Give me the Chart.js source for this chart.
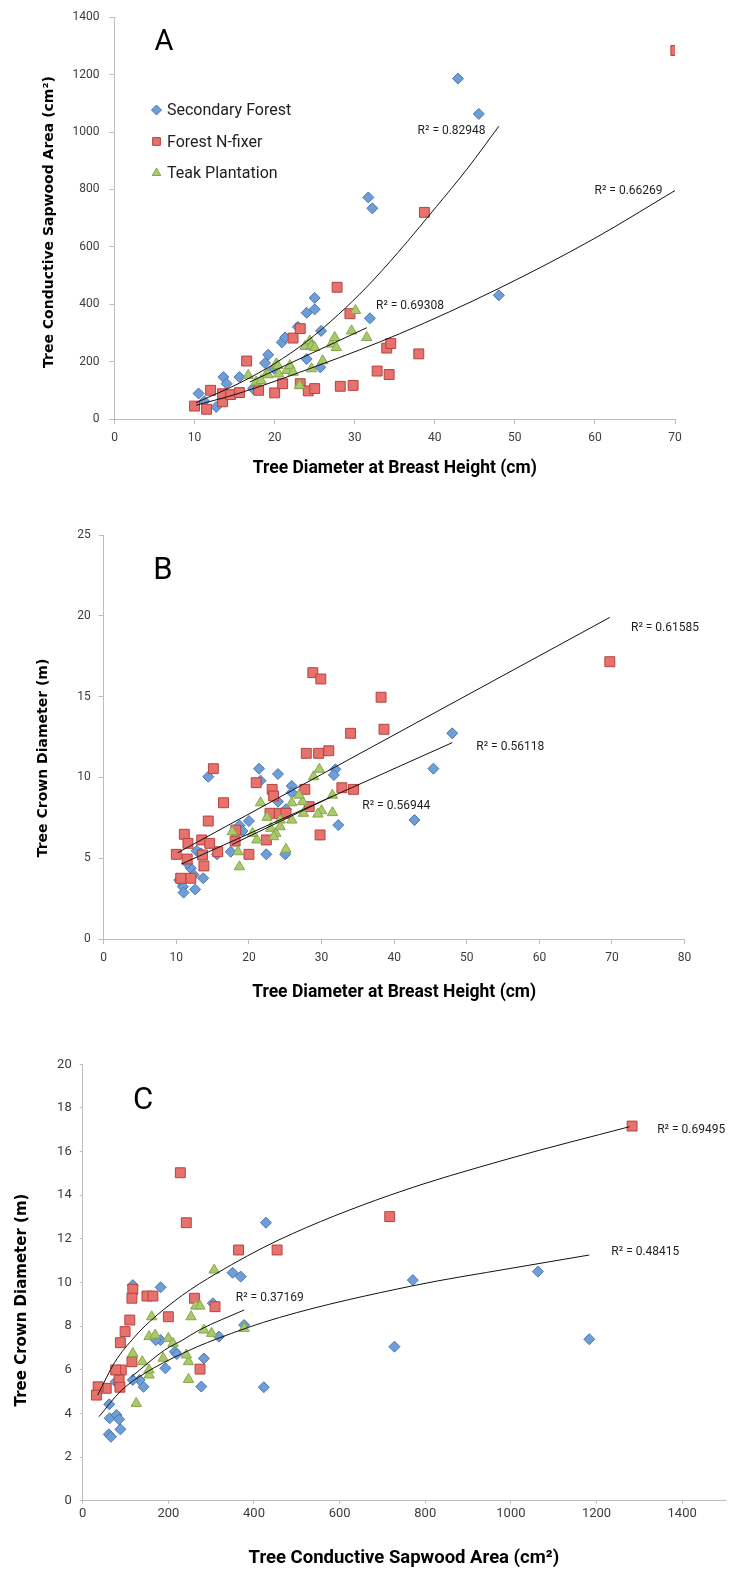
<!DOCTYPE html>
<html>
<head>
<meta charset="utf-8">
<title>Sapwood area and crown diameter</title>
<script src="https://cdn.jsdelivr.net/npm/chart.js@4.4.1/dist/chart.umd.min.js"></script>
<style>
  body { margin: 0; background: #fff; }
  #wrap { position: relative; width: 733px; height: 1570px; }
  canvas { position: absolute; left: 0; }
</style>
</head>
<body>
<div id="wrap">
  <canvas id="chartA" width="733" height="505" style="top:0"></canvas>
  <canvas id="chartB" width="733" height="530" style="top:505px"></canvas>
  <canvas id="chartC" width="733" height="535" style="top:1035px"></canvas>
</div>
<script>
"use strict";

const series_names = ["Secondary Forest", "Forest N-fixer", "Teak Plantation"];

/* Panel A: diameter at breast height (cm) vs conductive sapwood area (cm2) */
const a_secondary_dbh = [10.5, 11.2, 12.7, 13.6, 14.0, 15.6, 17.3, 18.8, 19.2, 19.9, 20.9, 21.3, 22.9, 24.0, 24.0, 25.0, 25.0, 25.8, 25.7, 31.9, 31.7, 32.2, 42.9, 45.5, 48.0];
const a_secondary_sap = [89, 62, 42, 146, 123, 146, 106, 195, 224, 176, 267, 284, 321, 209, 370, 422, 382, 307, 180, 351, 772, 734, 1186, 1063, 431];
const a_nfixer_dbh = [10.0, 11.5, 12.0, 13.5, 13.5, 14.5, 15.6, 16.5, 18.0, 20.0, 21.0, 22.3, 23.2, 23.2, 24.2, 25.0, 27.8, 28.2, 29.4, 29.8, 32.8, 34.0, 34.5, 34.3, 38.0, 38.7, 70.1];
const a_nfixer_sap = [45, 34, 100, 60, 88, 85, 92, 202, 100, 91, 123, 282, 315, 123, 98, 106, 459, 114, 367, 117, 167, 247, 263, 155, 227, 720, 1284];
const a_teak_dbh = [16.7, 17.7, 18.3, 19.0, 19.2, 20.2, 20.4, 20.5, 21.5, 21.9, 22.3, 23.1, 23.8, 24.4, 24.6, 24.6, 25.0, 26.0, 27.1, 27.5, 27.7, 29.6, 30.1, 31.5];
const a_teak_sap = [152, 129, 134, 157, 154, 192, 186, 157, 169, 186, 163, 117, 253, 272, 255, 175, 249, 203, 261, 284, 249, 307, 378, 284];

// fitted curves, read along their length
const a_fit_secondary_x = [10.2, 15.6, 20, 24, 28, 31.5, 35.4, 40.2, 44, 48];
const a_fit_secondary_y = [57, 125, 193, 270, 365, 460, 580, 740, 870, 1020];
const a_fit_nfixer_x = [10.2, 15.6, 25.6, 35.6, 48, 60, 70];
const a_fit_nfixer_y = [48, 90, 188, 297, 455, 630, 796];
const a_fit_teak_x = [16.9, 31.5];
const a_fit_teak_y = [129, 318];
const a_r2_text = ["R\u00b2 = 0.82948", "R\u00b2 = 0.66269", "R\u00b2 = 0.69308"];

/* Panel B: diameter at breast height (cm) vs crown diameter (m) */
const b_secondary_dbh = [48.0, 21.4, 24.0, 45.4, 14.4, 31.9, 42.8, 32.3, 25.9, 25.9, 31.7, 21.6, 24.0, 25.1, 20.0, 18.7, 19.1, 22.4, 25.0, 17.5, 15.6, 12.8, 13.4, 12.0, 12.4, 10.9, 11.0, 12.6, 13.7, 10.4, 11.5];
const b_secondary_crown = [12.73, 10.54, 10.21, 10.54, 10.04, 10.5, 7.36, 7.05, 9.47, 9.06, 10.15, 9.8, 8.5, 8.03, 7.3, 7.03, 6.68, 5.24, 5.24, 5.4, 5.24, 5.46, 5.3, 4.38, 3.96, 3.24, 2.87, 3.07, 3.76, 3.65, 4.68];
const b_nfixer_dbh = [69.7, 28.8, 29.9, 38.2, 38.6, 34.0, 27.9, 29.6, 31.0, 15.1, 21.0, 23.2, 23.4, 27.7, 28.3, 32.8, 34.4, 29.8, 16.5, 14.4, 22.9, 24.2, 25.1, 18.2, 18.1, 20.0, 22.4, 15.7, 10.0, 11.1, 11.6, 13.5, 14.6, 11.5, 13.8, 13.6, 10.6, 12.0];
const b_nfixer_crown = [17.16, 16.48, 16.09, 14.96, 12.98, 12.73, 11.49, 11.49, 11.65, 10.54, 9.67, 9.26, 8.85, 9.26, 8.19, 9.36, 9.26, 6.44, 8.43, 7.3, 7.78, 7.78, 7.78, 6.74, 6.06, 5.24, 6.13, 5.4, 5.24, 6.48, 5.92, 6.13, 5.92, 4.95, 4.52, 5.2, 3.76, 3.76];
const b_teak_dbh = [29.7, 28.9, 31.5, 31.5, 30.0, 29.5, 27.5, 27.4, 26.9, 25.9, 25.9, 21.6, 22.5, 24.3, 17.7, 18.5, 18.7, 25.1, 21.1, 20.5, 23.0, 23.7, 23.4, 24.3];
const b_teak_crown = [10.5, 10.04, 8.9, 7.82, 7.94, 7.73, 7.78, 8.5, 8.9, 8.43, 7.36, 8.43, 7.53, 7.36, 6.64, 5.4, 4.47, 5.55, 6.13, 6.54, 6.85, 6.54, 6.33, 6.95];

const b_fit_secondary_x = [10.7, 48.0];
const b_fit_secondary_y = [4.64, 12.15];
const b_fit_nfixer_x = [10.2, 69.7];
const b_fit_nfixer_y = [5.34, 19.9];
const b_fit_teak_x = [17.7, 31.5];
const b_fit_teak_y = [5.85, 8.83];
const b_r2_text = ["R\u00b2 = 0.61585", "R\u00b2 = 0.56118", "R\u00b2 = 0.56944"];

/* Panel C: conductive sapwood area (cm2) vs crown diameter (m) */
const c_secondary_sap = [428, 350, 369, 771, 1063, 117, 182, 304, 1183, 728, 423, 377, 283, 277, 318, 215, 182, 171, 193, 142, 133, 117, 77, 62, 63, 79, 85, 61, 66, 88, 220];
const c_secondary_crown = [12.74, 10.45, 10.27, 10.11, 10.5, 9.88, 9.78, 9.05, 7.4, 7.06, 5.2, 8.05, 6.52, 5.23, 7.52, 6.83, 7.36, 7.36, 6.07, 5.22, 5.53, 5.53, 5.45, 4.42, 3.78, 3.93, 3.73, 3.04, 2.93, 3.27, 6.72];
const c_nfixer_sap = [1283, 228, 242, 717, 364, 454, 117, 115, 150, 164, 261, 309, 274, 200, 115, 110, 99, 88, 90, 77, 85, 87, 55, 36, 32];
const c_nfixer_crown = [17.17, 15.03, 12.74, 13.02, 11.49, 11.49, 9.69, 9.28, 9.38, 9.38, 9.28, 8.89, 6.03, 8.43, 6.37, 8.28, 7.75, 7.24, 5.99, 5.99, 5.53, 5.2, 5.15, 5.22, 4.84];
const c_teak_sap = [307, 377, 301, 283, 247, 247, 242, 253, 264, 274, 200, 211, 188, 155, 169, 161, 155, 155, 139, 125, 117];
const c_teak_crown = [10.57, 7.9, 7.67, 7.82, 5.56, 6.37, 6.68, 8.43, 8.92, 8.92, 7.44, 7.21, 6.53, 7.52, 7.59, 8.43, 5.76, 5.99, 6.37, 4.46, 6.75];

const c_fit_secondary_x = [38, 90, 145, 233, 311, 460, 771, 1000, 1183];
const c_fit_secondary_y = [3.85, 5.05, 5.84, 6.75, 7.4, 8.4, 9.85, 10.65, 11.26];
const c_fit_nfixer_x = [35, 75, 121, 156, 233, 311, 458, 717, 1000, 1277];
const c_fit_nfixer_y = [4.84, 6.35, 7.5, 8.2, 9.42, 10.4, 11.95, 14.0, 15.7, 17.14];
const c_fit_teak_x = [114, 191, 233, 272, 377];
const c_fit_teak_y = [5.68, 6.9, 7.36, 7.82, 8.74];
const c_r2_text = ["R\u00b2 = 0.69495", "R\u00b2 = 0.48415", "R\u00b2 = 0.37169"];

/*
    styling
*/
const AXIS_COLOR = "#bcbcbc";
const TICK_COLOR = "#3c3c3c";
const BLUE = { fill: "#6f9dd5", edge: "#4977b4" };
const RED = { fill: "#e6716d", edge: "#b8433f" };
const GREEN = { fill: "#a9c96b", edge: "#86a74a" };

Chart.defaults.font.family = "Roboto, 'Liberation Sans', sans-serif";
Chart.defaults.color = TICK_COLOR;

function pts(xs, ys) {
    return xs.map((x, i) => ({ x: x, y: ys[i] }));
}

function marker_sets(blue, red, green) {
    return [{
        label: series_names[0],
        data: blue,
        pointStyle: "rectRot",
        pointRadius: 5.5,
        backgroundColor: BLUE.fill,
        borderColor: BLUE.edge,
        borderWidth: 1,
        order: 3
    },
    {
        label: series_names[1],
        data: red,
        pointStyle: "rect",
        pointRadius: 7,
        backgroundColor: RED.fill,
        borderColor: RED.edge,
        borderWidth: 1,
        order: 2
    },
    {
        label: series_names[2],
        data: green,
        pointStyle: "triangle",
        pointRadius: 6,
        backgroundColor: GREEN.fill,
        borderColor: GREEN.edge,
        borderWidth: 1,
        order: 1
    }];
}

function fit_set(data) {
    return {
        label: "fit",
        data: data,
        showLine: true,
        fill: false,
        pointRadius: 0,
        borderColor: "#111",
        borderWidth: 1,
        cubicInterpolationMode: "monotone",
        order: 0
    };
}

// letters, rotated y titles, R2 labels and the legend
const panel_text_plugin = {
    id: "panelText",
    afterDatasetsDraw: function (chart, args, opts) {
        const ctx = chart.ctx;
        const xs = chart.scales.x;
        const ys = chart.scales.y;
        ctx.save();
        ctx.fillStyle = "#000";
        ctx.textAlign = "center";
        ctx.textBaseline = "middle";

        ctx.font = opts.letterFont;
        ctx.fillText(opts.letter, opts.letterAt[0], opts.letterAt[1]);

        ctx.save();
        ctx.translate(opts.yTitleAt[0], opts.yTitleAt[1]);
        ctx.rotate(-Math.PI / 2);
        ctx.font = opts.yTitleFont;
        ctx.fillText(opts.yTitle, 0, 0);
        ctx.restore();

        ctx.font = "12px Roboto";
        ctx.fillStyle = "#1e1e1e";
        opts.r2.forEach(r => {
            ctx.fillText(r.text, xs.getPixelForValue(r.x), ys.getPixelForValue(r.y));
        });

        if (opts.legendAt) {
            const [lx, ly, gap] = opts.legendAt;
            const sizes = [5, 5.5, 5];
            ctx.textAlign = "left";
            ctx.font = "16px Roboto";
            chart.data.datasets.filter(d => !d.showLine).forEach((d, i) => {
                const y = ly + i * gap;
                ctx.fillStyle = d.backgroundColor;
                ctx.strokeStyle = d.borderColor;
                ctx.lineWidth = 1;
                Chart.helpers.drawPoint(ctx, { pointStyle: d.pointStyle, radius: sizes[i], rotation: 0, borderWidth: 1 }, lx, y);
                ctx.fillStyle = "#1e1e1e";
                ctx.fillText(d.label, lx + 10.5, y + 1);
            });
        }
        ctx.restore();
    }
};

function axis(min, max, step, font_size, pad, tick_len, fit) {
    return {
        type: "linear",
        min: min,
        max: max,
        ticks: {
            stepSize: step,
            includeBounds: false,
            padding: pad,
            color: TICK_COLOR,
            font: { size: font_size },
            format: { useGrouping: false }
        },
        grid: { drawOnChartArea: false, drawTicks: true, tickLength: tick_len, color: AXIS_COLOR },
        border: { color: AXIS_COLOR, width: 1 },
        afterFit: fit
    };
}

function create_panel(canvas_id, p) {
    const canvas = document.getElementById(canvas_id);
    const h = canvas.height;
    const area = p.area;
    const x_axis = axis(p.x[0], p.x[1], p.x[2], p.tickSize, p.xPad, p.tickLen, s => { s.height = h - area.bottom; });
    x_axis.title = {
        display: true,
        text: p.xTitle,
        color: "#000",
        font: { size: p.xTitleSize, weight: "bold" },
        padding: { top: 0, bottom: p.xTitleBottom }
    };
    const y_axis = axis(p.y[0], p.y[1], p.y[2], p.tickSize, p.yPad, p.tickLen, s => { s.width = area.left; });

    return new Chart(canvas.getContext("2d"), {
        type: "scatter",
        data: { datasets: p.datasets },
        plugins: [panel_text_plugin],
        options: {
            responsive: false,
            animation: false,
            events: [],
            layout: { padding: { left: 0, bottom: 0, top: area.top, right: canvas.width - area.right } },
            scales: { x: x_axis, y: y_axis },
            plugins: {
                legend: { display: false },
                tooltip: { enabled: false },
                panelText: p.text
            }
        }
    });
}

const y_title_font = "bold 14px 'DejaVu Sans'";

create_panel("chartA", {
    area: { left: 114.5, right: 675, top: 13, bottom: 419 },
    x: [0, 70, 10], y: [0, 1400, 200],
    tickSize: 12, tickLen: 5, xPad: 7, yPad: 10,
    xTitle: "Tree Diameter at Breast Height (cm)", xTitleSize: 17.5, xTitleBottom: 26,
    datasets: [
        ...marker_sets(pts(a_secondary_dbh, a_secondary_sap), pts(a_nfixer_dbh, a_nfixer_sap), pts(a_teak_dbh, a_teak_sap)),
        fit_set(pts(a_fit_secondary_x, a_fit_secondary_y)),
        fit_set(pts(a_fit_nfixer_x, a_fit_nfixer_y)),
        fit_set(pts(a_fit_teak_x, a_fit_teak_y))
    ],
    text: {
        letter: "A", letterFont: "29px Roboto", letterAt: [164, 43],
        yTitle: "Tree Conductive Sapwood Area (cm\u00b2)", yTitleFont: y_title_font, yTitleAt: [49, 222],
        r2: [
            { text: a_r2_text[0], x: 42.1, y: 1003 },
            { text: a_r2_text[1], x: 64.2, y: 793 },
            { text: a_r2_text[2], x: 36.9, y: 393 }
        ],
        legendAt: [156.5, 110, 31.5]
    }
});

create_panel("chartB", {
    area: { left: 103.7, right: 684.6, top: 30, bottom: 434 },
    x: [0, 80, 10], y: [0, 25, 5],
    tickSize: 12, tickLen: 5, xPad: 7, yPad: 8,
    xTitle: "Tree Diameter at Breast Height (cm)", xTitleSize: 17.5, xTitleBottom: 32,
    datasets: [
        ...marker_sets(pts(b_secondary_dbh, b_secondary_crown), pts(b_nfixer_dbh, b_nfixer_crown), pts(b_teak_dbh, b_teak_crown)),
        fit_set(pts(b_fit_secondary_x, b_fit_secondary_y)),
        fit_set(pts(b_fit_nfixer_x, b_fit_nfixer_y)),
        fit_set(pts(b_fit_teak_x, b_fit_teak_y))
    ],
    text: {
        letter: "B", letterFont: "31px Roboto", letterAt: [163, 66],
        yTitle: "Tree Crown Diameter (m)", yTitleFont: y_title_font, yTitleAt: [43, 253],
        r2: [
            { text: b_r2_text[0], x: 77.3, y: 19.25 },
            { text: b_r2_text[1], x: 56.0, y: 11.9 },
            { text: b_r2_text[2], x: 40.3, y: 8.23 }
        ]
    }
});

create_panel("chartC", {
    area: { left: 82.7, right: 729, top: 29.3, bottom: 465.7 },
    x: [0, 1500, 200], y: [0, 20, 2],
    tickSize: 13, tickLen: 3, xPad: 2, yPad: 8,
    xTitle: "Tree Conductive Sapwood Area (cm\u00b2)", xTitleSize: 18.5, xTitleBottom: 1,
    datasets: [
        ...marker_sets(pts(c_secondary_sap, c_secondary_crown), pts(c_nfixer_sap, c_nfixer_crown), pts(c_teak_sap, c_teak_crown)),
        fit_set(pts(c_fit_secondary_x, c_fit_secondary_y)),
        fit_set(pts(c_fit_nfixer_x, c_fit_nfixer_y)),
        fit_set(pts(c_fit_teak_x, c_fit_teak_y))
    ],
    text: {
        letter: "C", letterFont: "31px Roboto", letterAt: [143, 66],
        yTitle: "Tree Crown Diameter (m)", yTitleFont: "bold 15px 'DejaVu Sans'", yTitleAt: [22, 265],
        r2: [
            { text: c_r2_text[0], x: 1421, y: 17.0 },
            { text: c_r2_text[1], x: 1314, y: 11.4 },
            { text: c_r2_text[2], x: 437, y: 9.29 }
        ]
    }
});
</script>
</body>
</html>
